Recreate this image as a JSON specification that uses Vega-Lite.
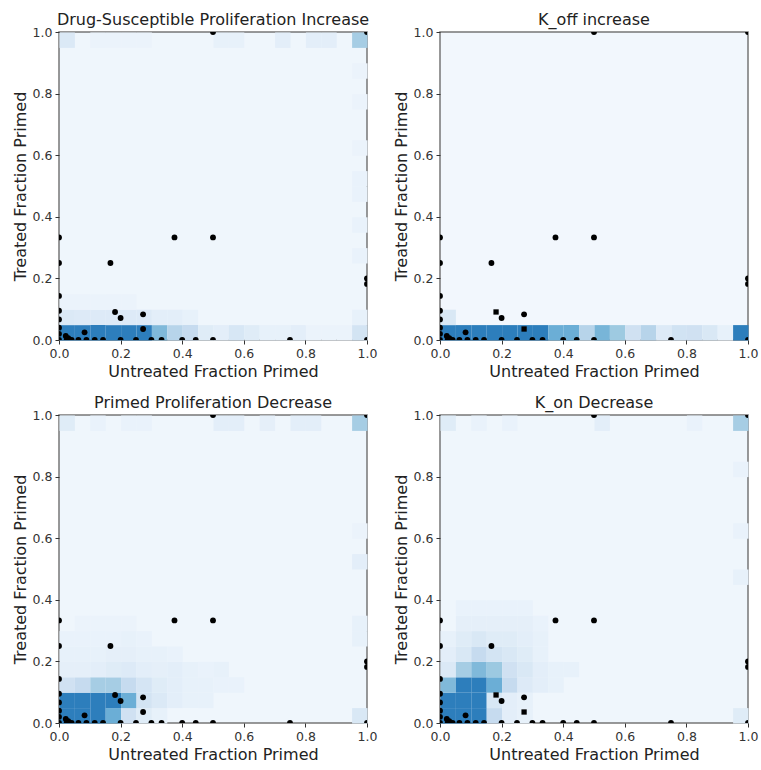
{
  "$schema": "https://vega.github.io/schema/vega-lite/v6.json",
  "padding": {"left": 11, "top": 11, "right": 5, "bottom": 5},
  "background": "white",
  "columns": 2,
  "spacing": {"column": 73, "row": 75},
  "bounds": "flush",
  "config": {
    "font": "DejaVu Sans",
    "view": {"stroke": "#777777", "strokeWidth": 1.5},
    "title": {"font": "DejaVu Sans", "fontSize": 16, "fontWeight": "normal", "color": "#222222", "offset": -2},
    "axis": {"labelFont": "DejaVu Sans", "labelFontSize": 12.5, "labelColor": "#333333", "labelFlush": false, "titleFont": "DejaVu Sans", "titleFontSize": 16, "titleFontWeight": "normal", "titleColor": "#222222", "tickColor": "#333333", "tickSize": 4, "labelPadding": 3, "titlePadding": 4, "grid": false, "domain": false},
    "legend": {"disable": true}
  },
  "datasets": {
    "pts": [
      {"x": 0.5, "y": 1.0, "sq": 0}, {"x": 1.0, "y": 1.0, "sq": 0}, {"x": 0.375, "y": 0.333, "sq": 0}, {"x": 0.5, "y": 0.333, "sq": 0}, {"x": 0.167, "y": 0.25, "sq": 0},
      {"x": 0, "y": 0.333, "sq": 0}, {"x": 0, "y": 0.25, "sq": 0}, {"x": 0, "y": 0.143, "sq": 0}, {"x": 0, "y": 0.095, "sq": 0}, {"x": 0, "y": 0.0667, "sq": 0}, {"x": 0, "y": 0.04, "sq": 0}, {"x": 0, "y": 0.02, "sq": 0},
      {"x": 1.0, "y": 0.2, "sq": 0}, {"x": 1.0, "y": 0.182, "sq": 0},
      {"x": 0.182, "y": 0.091, "sq": 1}, {"x": 0.2, "y": 0.0714, "sq": 0}, {"x": 0.273, "y": 0.0833, "sq": 0}, {"x": 0.273, "y": 0.0357, "sq": 1},
      {"x": 0.083, "y": 0.025, "sq": 0}, {"x": 0.022, "y": 0.013, "sq": 0}, {"x": 0.03, "y": 0.006, "sq": 0},
      {"x": 0, "y": 0, "sq": 0}, {"x": 0.025, "y": 0, "sq": 0}, {"x": 0.041, "y": 0, "sq": 0}, {"x": 0.063, "y": 0, "sq": 0}, {"x": 0.089, "y": 0, "sq": 0}, {"x": 0.116, "y": 0, "sq": 0}, {"x": 0.143, "y": 0, "sq": 0}, {"x": 0.2, "y": 0, "sq": 0}, {"x": 0.25, "y": 0, "sq": 0}, {"x": 0.3, "y": 0, "sq": 0}, {"x": 0.333, "y": 0, "sq": 0}, {"x": 0.4, "y": 0, "sq": 0}, {"x": 0.444, "y": 0, "sq": 0}, {"x": 0.5, "y": 0, "sq": 0}, {"x": 0.75, "y": 0, "sq": 0}, {"x": 1.0, "y": 0, "sq": 0}
    ],
    "cells": [
      {"p": 1, "x": 0.025, "y": 0.025, "v": 0.7}, {"p": 1, "x": 0.075, "y": 0.025, "v": 0.7}, {"p": 1, "x": 0.125, "y": 0.025, "v": 0.7}, {"p": 1, "x": 0.175, "y": 0.025, "v": 0.7}, {"p": 1, "x": 0.225, "y": 0.025, "v": 0.7}, {"p": 1, "x": 0.275, "y": 0.025, "v": 0.7},
      {"p": 1, "x": 0.325, "y": 0.025, "v": 0.45}, {"p": 1, "x": 0.375, "y": 0.025, "v": 0.3}, {"p": 1, "x": 0.425, "y": 0.025, "v": 0.25}, {"p": 1, "x": 0.475, "y": 0.025, "v": 0.12}, {"p": 1, "x": 0.525, "y": 0.025, "v": 0.1}, {"p": 1, "x": 0.575, "y": 0.025, "v": 0.16}, {"p": 1, "x": 0.625, "y": 0.025, "v": 0.12}, {"p": 1, "x": 0.675, "y": 0.025, "v": 0.08}, {"p": 1, "x": 0.725, "y": 0.025, "v": 0.08}, {"p": 1, "x": 0.775, "y": 0.025, "v": 0.1}, {"p": 1, "x": 0.825, "y": 0.025, "v": 0.06}, {"p": 1, "x": 0.875, "y": 0.025, "v": 0.06}, {"p": 1, "x": 0.925, "y": 0.025, "v": 0.06}, {"p": 1, "x": 0.975, "y": 0.025, "v": 0.18},
      {"p": 1, "x": 0.025, "y": 0.075, "v": 0.14}, {"p": 1, "x": 0.075, "y": 0.075, "v": 0.13}, {"p": 1, "x": 0.125, "y": 0.075, "v": 0.13}, {"p": 1, "x": 0.175, "y": 0.075, "v": 0.13}, {"p": 1, "x": 0.225, "y": 0.075, "v": 0.13}, {"p": 1, "x": 0.275, "y": 0.075, "v": 0.13}, {"p": 1, "x": 0.325, "y": 0.075, "v": 0.1}, {"p": 1, "x": 0.375, "y": 0.075, "v": 0.1}, {"p": 1, "x": 0.425, "y": 0.075, "v": 0.08}, {"p": 1, "x": 0.975, "y": 0.075, "v": 0.08},
      {"p": 1, "x": 0.025, "y": 0.125, "v": 0.06}, {"p": 1, "x": 0.075, "y": 0.125, "v": 0.06}, {"p": 1, "x": 0.125, "y": 0.125, "v": 0.06}, {"p": 1, "x": 0.175, "y": 0.125, "v": 0.06}, {"p": 1, "x": 0.225, "y": 0.125, "v": 0.06},
      {"p": 1, "x": 0.975, "y": 0.275, "v": 0.07}, {"p": 1, "x": 0.975, "y": 0.375, "v": 0.07}, {"p": 1, "x": 0.975, "y": 0.475, "v": 0.07}, {"p": 1, "x": 0.975, "y": 0.525, "v": 0.07}, {"p": 1, "x": 0.975, "y": 0.625, "v": 0.06}, {"p": 1, "x": 0.975, "y": 0.775, "v": 0.06}, {"p": 1, "x": 0.975, "y": 0.875, "v": 0.06},
      {"p": 1, "x": 0.025, "y": 0.975, "v": 0.14}, {"p": 1, "x": 0.125, "y": 0.975, "v": 0.06}, {"p": 1, "x": 0.175, "y": 0.975, "v": 0.06}, {"p": 1, "x": 0.225, "y": 0.975, "v": 0.06}, {"p": 1, "x": 0.275, "y": 0.975, "v": 0.06}, {"p": 1, "x": 0.525, "y": 0.975, "v": 0.08}, {"p": 1, "x": 0.575, "y": 0.975, "v": 0.08}, {"p": 1, "x": 0.725, "y": 0.975, "v": 0.1}, {"p": 1, "x": 0.825, "y": 0.975, "v": 0.1}, {"p": 1, "x": 0.875, "y": 0.975, "v": 0.1}, {"p": 1, "x": 0.975, "y": 0.975, "v": 0.35},

      {"p": 2, "x": 0.025, "y": 0.025, "v": 0.7}, {"p": 2, "x": 0.075, "y": 0.025, "v": 0.7}, {"p": 2, "x": 0.125, "y": 0.025, "v": 0.7}, {"p": 2, "x": 0.175, "y": 0.025, "v": 0.7}, {"p": 2, "x": 0.225, "y": 0.025, "v": 0.7}, {"p": 2, "x": 0.275, "y": 0.025, "v": 0.7}, {"p": 2, "x": 0.325, "y": 0.025, "v": 0.7},
      {"p": 2, "x": 0.375, "y": 0.025, "v": 0.5}, {"p": 2, "x": 0.425, "y": 0.025, "v": 0.5}, {"p": 2, "x": 0.475, "y": 0.025, "v": 0.3}, {"p": 2, "x": 0.525, "y": 0.025, "v": 0.47}, {"p": 2, "x": 0.575, "y": 0.025, "v": 0.375}, {"p": 2, "x": 0.625, "y": 0.025, "v": 0.2}, {"p": 2, "x": 0.675, "y": 0.025, "v": 0.3}, {"p": 2, "x": 0.725, "y": 0.025, "v": 0.13}, {"p": 2, "x": 0.775, "y": 0.025, "v": 0.19}, {"p": 2, "x": 0.825, "y": 0.025, "v": 0.2}, {"p": 2, "x": 0.875, "y": 0.025, "v": 0.15}, {"p": 2, "x": 0.925, "y": 0.025, "v": 0.08}, {"p": 2, "x": 0.975, "y": 0.025, "v": 0.7},
      {"p": 2, "x": 0.025, "y": 0.075, "v": 0.15},

      {"p": 3, "x": 0.025, "y": 0.025, "v": 0.7}, {"p": 3, "x": 0.075, "y": 0.025, "v": 0.7}, {"p": 3, "x": 0.125, "y": 0.025, "v": 0.7}, {"p": 3, "x": 0.175, "y": 0.025, "v": 0.5}, {"p": 3, "x": 0.225, "y": 0.025, "v": 0.2}, {"p": 3, "x": 0.275, "y": 0.025, "v": 0.12}, {"p": 3, "x": 0.325, "y": 0.025, "v": 0.08}, {"p": 3, "x": 0.975, "y": 0.025, "v": 0.15},
      {"p": 3, "x": 0.025, "y": 0.075, "v": 0.7}, {"p": 3, "x": 0.075, "y": 0.075, "v": 0.7}, {"p": 3, "x": 0.125, "y": 0.075, "v": 0.7}, {"p": 3, "x": 0.175, "y": 0.075, "v": 0.7}, {"p": 3, "x": 0.225, "y": 0.075, "v": 0.5}, {"p": 3, "x": 0.275, "y": 0.075, "v": 0.18}, {"p": 3, "x": 0.325, "y": 0.075, "v": 0.14}, {"p": 3, "x": 0.375, "y": 0.075, "v": 0.1}, {"p": 3, "x": 0.425, "y": 0.075, "v": 0.08}, {"p": 3, "x": 0.475, "y": 0.075, "v": 0.08},
      {"p": 3, "x": 0.025, "y": 0.125, "v": 0.2}, {"p": 3, "x": 0.075, "y": 0.125, "v": 0.25}, {"p": 3, "x": 0.125, "y": 0.125, "v": 0.35}, {"p": 3, "x": 0.175, "y": 0.125, "v": 0.35}, {"p": 3, "x": 0.225, "y": 0.125, "v": 0.25}, {"p": 3, "x": 0.275, "y": 0.125, "v": 0.17}, {"p": 3, "x": 0.325, "y": 0.125, "v": 0.12}, {"p": 3, "x": 0.375, "y": 0.125, "v": 0.1}, {"p": 3, "x": 0.425, "y": 0.125, "v": 0.08}, {"p": 3, "x": 0.475, "y": 0.125, "v": 0.08}, {"p": 3, "x": 0.525, "y": 0.125, "v": 0.07}, {"p": 3, "x": 0.575, "y": 0.125, "v": 0.07},
      {"p": 3, "x": 0.025, "y": 0.175, "v": 0.09}, {"p": 3, "x": 0.075, "y": 0.175, "v": 0.09}, {"p": 3, "x": 0.125, "y": 0.175, "v": 0.1}, {"p": 3, "x": 0.175, "y": 0.175, "v": 0.12}, {"p": 3, "x": 0.225, "y": 0.175, "v": 0.13}, {"p": 3, "x": 0.275, "y": 0.175, "v": 0.1}, {"p": 3, "x": 0.325, "y": 0.175, "v": 0.09}, {"p": 3, "x": 0.375, "y": 0.175, "v": 0.1}, {"p": 3, "x": 0.425, "y": 0.175, "v": 0.08}, {"p": 3, "x": 0.475, "y": 0.175, "v": 0.07}, {"p": 3, "x": 0.525, "y": 0.175, "v": 0.08},
      {"p": 3, "x": 0.025, "y": 0.225, "v": 0.08}, {"p": 3, "x": 0.075, "y": 0.225, "v": 0.08}, {"p": 3, "x": 0.125, "y": 0.225, "v": 0.08}, {"p": 3, "x": 0.175, "y": 0.225, "v": 0.09}, {"p": 3, "x": 0.225, "y": 0.225, "v": 0.09}, {"p": 3, "x": 0.275, "y": 0.225, "v": 0.08}, {"p": 3, "x": 0.325, "y": 0.225, "v": 0.08}, {"p": 3, "x": 0.375, "y": 0.225, "v": 0.07},
      {"p": 3, "x": 0.025, "y": 0.275, "v": 0.07}, {"p": 3, "x": 0.075, "y": 0.275, "v": 0.07}, {"p": 3, "x": 0.125, "y": 0.275, "v": 0.07}, {"p": 3, "x": 0.175, "y": 0.275, "v": 0.07}, {"p": 3, "x": 0.225, "y": 0.275, "v": 0.08}, {"p": 3, "x": 0.275, "y": 0.275, "v": 0.07},
      {"p": 3, "x": 0.075, "y": 0.325, "v": 0.06}, {"p": 3, "x": 0.125, "y": 0.325, "v": 0.06}, {"p": 3, "x": 0.175, "y": 0.325, "v": 0.06}, {"p": 3, "x": 0.225, "y": 0.325, "v": 0.06},
      {"p": 3, "x": 0.975, "y": 0.275, "v": 0.08}, {"p": 3, "x": 0.975, "y": 0.325, "v": 0.08}, {"p": 3, "x": 0.975, "y": 0.525, "v": 0.1}, {"p": 3, "x": 0.975, "y": 0.625, "v": 0.06},
      {"p": 3, "x": 0.025, "y": 0.975, "v": 0.12}, {"p": 3, "x": 0.125, "y": 0.975, "v": 0.07}, {"p": 3, "x": 0.225, "y": 0.975, "v": 0.07}, {"p": 3, "x": 0.275, "y": 0.975, "v": 0.07}, {"p": 3, "x": 0.525, "y": 0.975, "v": 0.1}, {"p": 3, "x": 0.575, "y": 0.975, "v": 0.1}, {"p": 3, "x": 0.675, "y": 0.975, "v": 0.09}, {"p": 3, "x": 0.775, "y": 0.975, "v": 0.1}, {"p": 3, "x": 0.825, "y": 0.975, "v": 0.1}, {"p": 3, "x": 0.975, "y": 0.975, "v": 0.35},

      {"p": 4, "x": 0.025, "y": 0.025, "v": 0.7}, {"p": 4, "x": 0.075, "y": 0.025, "v": 0.7}, {"p": 4, "x": 0.125, "y": 0.025, "v": 0.7}, {"p": 4, "x": 0.175, "y": 0.025, "v": 0.25}, {"p": 4, "x": 0.225, "y": 0.025, "v": 0.1}, {"p": 4, "x": 0.275, "y": 0.025, "v": 0.08}, {"p": 4, "x": 0.975, "y": 0.025, "v": 0.12},
      {"p": 4, "x": 0.025, "y": 0.075, "v": 0.7}, {"p": 4, "x": 0.075, "y": 0.075, "v": 0.7}, {"p": 4, "x": 0.125, "y": 0.075, "v": 0.7}, {"p": 4, "x": 0.175, "y": 0.075, "v": 0.16}, {"p": 4, "x": 0.225, "y": 0.075, "v": 0.1}, {"p": 4, "x": 0.275, "y": 0.075, "v": 0.08},
      {"p": 4, "x": 0.025, "y": 0.125, "v": 0.45}, {"p": 4, "x": 0.075, "y": 0.125, "v": 0.7}, {"p": 4, "x": 0.125, "y": 0.125, "v": 0.7}, {"p": 4, "x": 0.175, "y": 0.125, "v": 0.5}, {"p": 4, "x": 0.225, "y": 0.125, "v": 0.25}, {"p": 4, "x": 0.275, "y": 0.125, "v": 0.13}, {"p": 4, "x": 0.325, "y": 0.125, "v": 0.1}, {"p": 4, "x": 0.375, "y": 0.125, "v": 0.08},
      {"p": 4, "x": 0.025, "y": 0.175, "v": 0.14}, {"p": 4, "x": 0.075, "y": 0.175, "v": 0.35}, {"p": 4, "x": 0.125, "y": 0.175, "v": 0.45}, {"p": 4, "x": 0.175, "y": 0.175, "v": 0.38}, {"p": 4, "x": 0.225, "y": 0.175, "v": 0.2}, {"p": 4, "x": 0.275, "y": 0.175, "v": 0.15}, {"p": 4, "x": 0.325, "y": 0.175, "v": 0.1}, {"p": 4, "x": 0.375, "y": 0.175, "v": 0.08}, {"p": 4, "x": 0.425, "y": 0.175, "v": 0.08},
      {"p": 4, "x": 0.025, "y": 0.225, "v": 0.1}, {"p": 4, "x": 0.075, "y": 0.225, "v": 0.15}, {"p": 4, "x": 0.125, "y": 0.225, "v": 0.25}, {"p": 4, "x": 0.175, "y": 0.225, "v": 0.18}, {"p": 4, "x": 0.225, "y": 0.225, "v": 0.15}, {"p": 4, "x": 0.275, "y": 0.225, "v": 0.12}, {"p": 4, "x": 0.325, "y": 0.225, "v": 0.08},
      {"p": 4, "x": 0.025, "y": 0.275, "v": 0.08}, {"p": 4, "x": 0.075, "y": 0.275, "v": 0.12}, {"p": 4, "x": 0.125, "y": 0.275, "v": 0.15}, {"p": 4, "x": 0.175, "y": 0.275, "v": 0.12}, {"p": 4, "x": 0.225, "y": 0.275, "v": 0.12}, {"p": 4, "x": 0.275, "y": 0.275, "v": 0.1}, {"p": 4, "x": 0.325, "y": 0.275, "v": 0.08},
      {"p": 4, "x": 0.075, "y": 0.325, "v": 0.09}, {"p": 4, "x": 0.125, "y": 0.325, "v": 0.09}, {"p": 4, "x": 0.175, "y": 0.325, "v": 0.09}, {"p": 4, "x": 0.225, "y": 0.325, "v": 0.09}, {"p": 4, "x": 0.275, "y": 0.325, "v": 0.09}, {"p": 4, "x": 0.325, "y": 0.325, "v": 0.07},
      {"p": 4, "x": 0.075, "y": 0.375, "v": 0.07}, {"p": 4, "x": 0.125, "y": 0.375, "v": 0.07}, {"p": 4, "x": 0.175, "y": 0.375, "v": 0.07}, {"p": 4, "x": 0.225, "y": 0.375, "v": 0.07}, {"p": 4, "x": 0.275, "y": 0.375, "v": 0.07},
      {"p": 4, "x": 0.975, "y": 0.475, "v": 0.08}, {"p": 4, "x": 0.975, "y": 0.625, "v": 0.07}, {"p": 4, "x": 0.975, "y": 0.825, "v": 0.07},
      {"p": 4, "x": 0.025, "y": 0.975, "v": 0.12}, {"p": 4, "x": 0.125, "y": 0.975, "v": 0.07}, {"p": 4, "x": 0.225, "y": 0.975, "v": 0.07}, {"p": 4, "x": 0.525, "y": 0.975, "v": 0.1}, {"p": 4, "x": 0.825, "y": 0.975, "v": 0.07}, {"p": 4, "x": 0.975, "y": 0.975, "v": 0.35}
    ]
  },
  "concat": [
    {
      "title": "Drug-Susceptible Proliferation Increase",
      "width": 308, "height": 308,
      "view": {"fill": "#eff6fc"},
      "layer": [
        {"data": {"name": "cells"}, "transform": [{"filter": "datum.p == 1"}], "mark": {"type": "rect"},
         "encoding": {
           "x": {"field": "x", "type": "quantitative", "bin": {"step": 0.05, "extent": [0, 1]}, "scale": {"domain": [0, 1], "nice": false}, "axis": {"title": "Untreated Fraction Primed", "values": [0, 0.2, 0.4, 0.6, 0.8, 1], "format": ".1f"}},
           "y": {"field": "y", "type": "quantitative", "bin": {"step": 0.05, "extent": [0, 1]}, "scale": {"domain": [0, 1], "nice": false}, "axis": {"title": "Treated Fraction Primed", "values": [0, 0.2, 0.4, 0.6, 0.8, 1], "format": ".1f"}},
           "color": {"field": "v", "type": "quantitative", "scale": {"domain": [0, 0.125, 0.25, 0.375, 0.5, 0.625, 0.75, 0.875, 1], "range": ["#f7fbff", "#deebf7", "#c6dbef", "#9ecae1", "#6baed6", "#4292c6", "#2171b5", "#08519c", "#08306b"]}}
         }},
        {"data": {"name": "pts"}, "mark": {"type": "point", "shape": "circle", "filled": true, "color": "black", "opacity": 1, "size": 34, "clip": true},
         "encoding": {
           "x": {"field": "x", "type": "quantitative", "axis": {"title": "Untreated Fraction Primed", "values": [0, 0.2, 0.4, 0.6, 0.8, 1], "format": ".1f"}},
           "y": {"field": "y", "type": "quantitative", "axis": {"title": "Treated Fraction Primed", "values": [0, 0.2, 0.4, 0.6, 0.8, 1], "format": ".1f"}}
         }}
      ]
    },
    {
      "title": "K_off increase",
      "width": 308, "height": 308,
      "view": {"fill": "#f2f7fd"},
      "layer": [
        {"data": {"name": "cells"}, "transform": [{"filter": "datum.p == 2"}], "mark": {"type": "rect"},
         "encoding": {
           "x": {"field": "x", "type": "quantitative", "bin": {"step": 0.05, "extent": [0, 1]}, "scale": {"domain": [0, 1], "nice": false}, "axis": {"title": "Untreated Fraction Primed", "values": [0, 0.2, 0.4, 0.6, 0.8, 1], "format": ".1f"}},
           "y": {"field": "y", "type": "quantitative", "bin": {"step": 0.05, "extent": [0, 1]}, "scale": {"domain": [0, 1], "nice": false}, "axis": {"title": "Treated Fraction Primed", "values": [0, 0.2, 0.4, 0.6, 0.8, 1], "format": ".1f"}},
           "color": {"field": "v", "type": "quantitative", "scale": {"domain": [0, 0.125, 0.25, 0.375, 0.5, 0.625, 0.75, 0.875, 1], "range": ["#f7fbff", "#deebf7", "#c6dbef", "#9ecae1", "#6baed6", "#4292c6", "#2171b5", "#08519c", "#08306b"]}}
         }},
        {"data": {"name": "pts"}, "transform": [{"filter": "datum.sq == 0"}], "mark": {"type": "point", "shape": "circle", "filled": true, "color": "black", "opacity": 1, "size": 34, "clip": true},
         "encoding": {
           "x": {"field": "x", "type": "quantitative", "axis": {"title": "Untreated Fraction Primed", "values": [0, 0.2, 0.4, 0.6, 0.8, 1], "format": ".1f"}},
           "y": {"field": "y", "type": "quantitative", "axis": {"title": "Treated Fraction Primed", "values": [0, 0.2, 0.4, 0.6, 0.8, 1], "format": ".1f"}}
         }},
        {"data": {"name": "pts"}, "transform": [{"filter": "datum.sq == 1"}], "mark": {"type": "point", "shape": "square", "filled": true, "color": "black", "opacity": 1, "size": 28, "clip": true},
         "encoding": {
           "x": {"field": "x", "type": "quantitative"},
           "y": {"field": "y", "type": "quantitative"}
         }}
      ]
    },
    {
      "title": "Primed Proliferation Decrease",
      "width": 308, "height": 308,
      "view": {"fill": "#eff6fc"},
      "layer": [
        {"data": {"name": "cells"}, "transform": [{"filter": "datum.p == 3"}], "mark": {"type": "rect"},
         "encoding": {
           "x": {"field": "x", "type": "quantitative", "bin": {"step": 0.05, "extent": [0, 1]}, "scale": {"domain": [0, 1], "nice": false}, "axis": {"title": "Untreated Fraction Primed", "values": [0, 0.2, 0.4, 0.6, 0.8, 1], "format": ".1f"}},
           "y": {"field": "y", "type": "quantitative", "bin": {"step": 0.05, "extent": [0, 1]}, "scale": {"domain": [0, 1], "nice": false}, "axis": {"title": "Treated Fraction Primed", "values": [0, 0.2, 0.4, 0.6, 0.8, 1], "format": ".1f"}},
           "color": {"field": "v", "type": "quantitative", "scale": {"domain": [0, 0.125, 0.25, 0.375, 0.5, 0.625, 0.75, 0.875, 1], "range": ["#f7fbff", "#deebf7", "#c6dbef", "#9ecae1", "#6baed6", "#4292c6", "#2171b5", "#08519c", "#08306b"]}}
         }},
        {"data": {"name": "pts"}, "mark": {"type": "point", "shape": "circle", "filled": true, "color": "black", "opacity": 1, "size": 34, "clip": true},
         "encoding": {
           "x": {"field": "x", "type": "quantitative", "axis": {"title": "Untreated Fraction Primed", "values": [0, 0.2, 0.4, 0.6, 0.8, 1], "format": ".1f"}},
           "y": {"field": "y", "type": "quantitative", "axis": {"title": "Treated Fraction Primed", "values": [0, 0.2, 0.4, 0.6, 0.8, 1], "format": ".1f"}}
         }}
      ]
    },
    {
      "title": "K_on Decrease",
      "width": 308, "height": 308,
      "view": {"fill": "#eff6fc"},
      "layer": [
        {"data": {"name": "cells"}, "transform": [{"filter": "datum.p == 4"}], "mark": {"type": "rect"},
         "encoding": {
           "x": {"field": "x", "type": "quantitative", "bin": {"step": 0.05, "extent": [0, 1]}, "scale": {"domain": [0, 1], "nice": false}, "axis": {"title": "Untreated Fraction Primed", "values": [0, 0.2, 0.4, 0.6, 0.8, 1], "format": ".1f"}},
           "y": {"field": "y", "type": "quantitative", "bin": {"step": 0.05, "extent": [0, 1]}, "scale": {"domain": [0, 1], "nice": false}, "axis": {"title": "Treated Fraction Primed", "values": [0, 0.2, 0.4, 0.6, 0.8, 1], "format": ".1f"}},
           "color": {"field": "v", "type": "quantitative", "scale": {"domain": [0, 0.125, 0.25, 0.375, 0.5, 0.625, 0.75, 0.875, 1], "range": ["#f7fbff", "#deebf7", "#c6dbef", "#9ecae1", "#6baed6", "#4292c6", "#2171b5", "#08519c", "#08306b"]}}
         }},
        {"data": {"name": "pts"}, "transform": [{"filter": "datum.sq == 0"}], "mark": {"type": "point", "shape": "circle", "filled": true, "color": "black", "opacity": 1, "size": 34, "clip": true},
         "encoding": {
           "x": {"field": "x", "type": "quantitative", "axis": {"title": "Untreated Fraction Primed", "values": [0, 0.2, 0.4, 0.6, 0.8, 1], "format": ".1f"}},
           "y": {"field": "y", "type": "quantitative", "axis": {"title": "Treated Fraction Primed", "values": [0, 0.2, 0.4, 0.6, 0.8, 1], "format": ".1f"}}
         }},
        {"data": {"name": "pts"}, "transform": [{"filter": "datum.sq == 1"}], "mark": {"type": "point", "shape": "square", "filled": true, "color": "black", "opacity": 1, "size": 28, "clip": true},
         "encoding": {
           "x": {"field": "x", "type": "quantitative"},
           "y": {"field": "y", "type": "quantitative"}
         }}
      ]
    }
  ]
}
